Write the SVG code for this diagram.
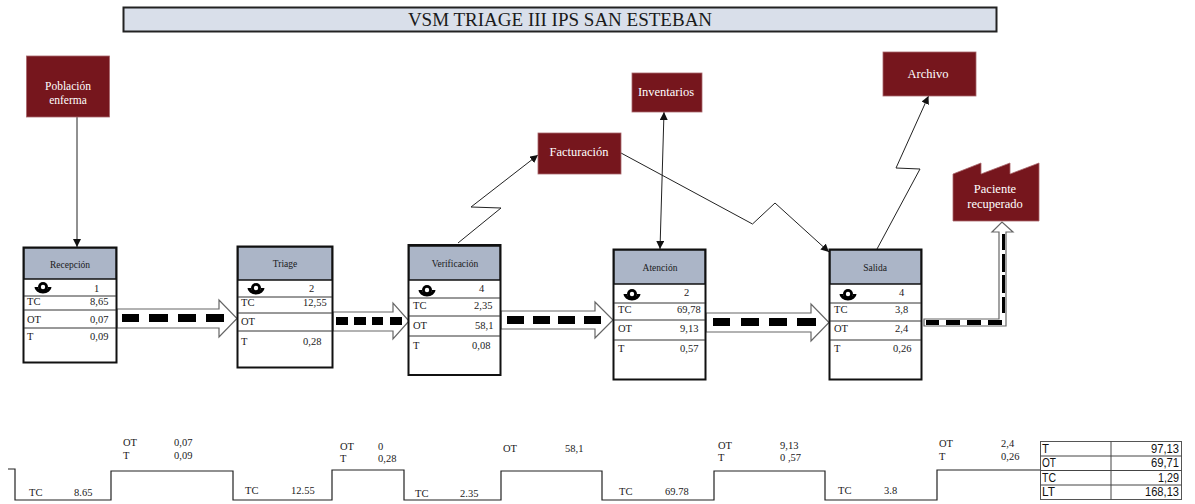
<svg xmlns="http://www.w3.org/2000/svg" width="1195" height="504" viewBox="0 0 1195 504">
<style>
text{font-family:"Liberation Serif","Times New Roman",serif;fill:#1a1a1a}
.v{font-size:10.5px}
.n{font-size:9.500px;text-anchor:middle}
.c{font-size:12.500px;fill:#fff;text-anchor:middle}
.s{font-size:10.500px}
.t{font-family:"Liberation Sans",Arial,sans-serif;font-size:12.500px;fill:#111}
.r{text-anchor:end}
.box{fill:#fff;stroke:#111;stroke-width:2}
.head{fill:#abb5c7;stroke:#111;stroke-width:1.5}
.row{stroke:#333;stroke-width:1;fill:none}
.red{fill:#76161d;stroke:#a8666b;stroke-width:.8}
.l{fill:none;stroke:#222;stroke-width:1}
.ha{fill:#fff;stroke:#666;stroke-width:1.2}
.d{fill:#000}
.st{fill:none;stroke:#222;stroke-width:1.2}
.gl{stroke:#444;stroke-width:1}
</style>
<defs>
<marker id="a" markerWidth="9" markerHeight="8" refX="8" refY="4" orient="auto" markerUnits="userSpaceOnUse"><path d="M0 0L8 4L0 8Z" fill="#111"/></marker>
<marker id="b" markerWidth="9" markerHeight="8" refX="8" refY="4" orient="auto-start-reverse" markerUnits="userSpaceOnUse"><path d="M0 0L8 4L0 8Z" fill="#111"/></marker>
<g id="op"><path d="M-8.500-1A8.500 6.500 0 0 0 8.500-1L5-1A5 4 0 0 1-5-1Z" fill="#000"/><circle cx="0" cy="-1" r="5" fill="#000"/><circle cx="0" cy="-1" r="2.200" fill="#fff"/></g>
</defs>
<g id="title"><rect x="123.500" y="7.500" width="873" height="24" fill="#d9dfea" stroke="#222" stroke-width="2"/><text x="560" y="26" font-size="19" text-anchor="middle">VSM TRIAGE III IPS SAN ESTEBAN</text></g>

<g id="connectors">
<path class="l" d="M77 117V247" marker-end="url(#a)"/>
<path class="l" d="M458 243L501 208L471 207L538 155" marker-end="url(#a)"/>
<path class="l" d="M621 153L752.500 224L775 203L829 252" marker-end="url(#a)"/>
<path class="l" d="M664 112L660 249" marker-start="url(#b)" marker-end="url(#b)"/>
<path class="l" d="M877 249L920 169L896 168L928.500 96" marker-end="url(#a)"/>
<path class="ha" d="M117 309H219V300L237 318.500L219 337V328H117Z"/>
<path class="d" d="M122 314h17v8h-17zM149 314h19v8h-19zM178 314h18v8h-18zM206 314h18v8h-18z"/>
<path class="ha" d="M333 312H393V303L409 321L393 339V331H333Z"/>
<path class="d" d="M336 317h12v8h-12zM354 317h12v8h-12zM372 317h11v8h-11zM390 317h12v8h-12z"/>
<path class="ha" d="M501 311H595V302L613 320L595 338V329H501Z"/>
<path class="d" d="M507 316h17v8h-17zM533 316h17v8h-17zM558 316h17v8h-17zM584 316h17v8h-17z"/>
<path class="ha" d="M706 313H811V304L829 322.500L811 341V332H706Z"/>
<path class="d" d="M713 318h17v8h-17zM741 318h18v8h-18zM769 318h18v8h-18zM797 318h19v8h-19z"/>
<path class="ha" d="M924 319H999V232H992L1002 222L1013 232H1006V326H924Z"/>
<path class="d" d="M926 320h13v5h-13zM946 320h14v5h-14zM967 320h14v5h-14zM988 320h14v5h-14zM1002 234h3v16h-3zM1002 254h3v18h-3zM1002 275h3v18h-3zM1002 297h3v16h-3z"/>
<path class="st" d="M8 469H15V500H111V471H233V500H332V470H404V500H501V471H602V500H714V471H825V500H937V470H1040"/>
</g>

<g id="poblacion"><rect class="red" x="26.500" y="56" width="83" height="61"/><text class="c" style="font-size:11.500px" x="68" y="90">Población</text><text class="c" style="font-size:11.500px" x="68" y="104">enferma</text></g>
<g id="inventarios"><rect class="red" x="632" y="73" width="70" height="39"/><text class="c" x="666" y="96">Inventarios</text></g>
<g id="facturacion"><rect class="red" x="538" y="133" width="83" height="41"/><text class="c" x="579" y="156">Facturación</text></g>
<g id="archivo"><rect class="red" x="883" y="52" width="93" height="44"/><text class="c" x="928" y="78">Archivo</text></g>
<g id="paciente"><path class="red" d="M953 221V174L981 163V174L1010 163V174L1039 163V221Z"/><text class="c" x="995" y="193">Paciente</text><text class="c" x="995" y="208">recuperado</text></g>

<g id="recepcion">
<rect class="box" x="23.500" y="247.500" width="93" height="115"/><rect class="head" x="24" y="248" width="92" height="31"/>
<path class="row" d="M24 296H116M24 310H116M24 328H116"/>
<use href="#op" x="43" y="288"/><text class="v" x="94" y="292">1</text>
<text class="v" x="27" y="305">TC</text><text class="v" x="90" y="305">8,65</text>
<text class="v" x="27" y="323">OT</text><text class="v" x="90" y="323">0,07</text>
<text class="v" x="27" y="340">T</text><text class="v" x="90" y="340">0,09</text>
<text class="n" x="70" y="268">Recepción</text>
</g>
<g id="triage">
<rect class="box" x="237.500" y="246.500" width="95" height="121"/><rect class="head" x="238" y="247" width="94" height="33"/>
<path class="row" d="M238 297H332M238 313H332M238 331H332"/>
<use href="#op" x="256" y="289"/><text class="v" x="309" y="292">2</text>
<text class="v" x="241" y="306">TC</text><text class="v" x="303" y="306">12,55</text>
<text class="v" x="241" y="325">OT</text>
<text class="v" x="241" y="345">T</text><text class="v" x="303" y="345">0,28</text>
<text class="n" x="285" y="267">Triage</text>
</g>
<g id="verificacion">
<rect class="box" x="408.500" y="245" width="92" height="130"/><rect class="head" x="409" y="246" width="91" height="34"/>
<path class="row" d="M409 298H500M409 316H500M409 336H500"/>
<use href="#op" x="427" y="291"/><text class="v" x="479" y="292">4</text>
<text class="v" x="413" y="309">TC</text><text class="v" x="474" y="309">2,35</text>
<text class="v" x="413" y="329">OT</text><text class="v" x="475" y="329">58,1</text>
<text class="v" x="413" y="349">T</text><text class="v" x="472" y="349">0,08</text>
<text class="n" x="455" y="267">Verificación</text>
</g>
<g id="atencion">
<rect class="box" x="613.500" y="249.500" width="92" height="130"/><rect class="head" x="614" y="250" width="91" height="34"/>
<path class="row" d="M614 303H705M614 320H705M614 340H705"/>
<use href="#op" x="632" y="295"/><text class="v" x="684" y="296">2</text>
<text class="v" x="618" y="313">TC</text><text class="v" x="677" y="313">69,78</text>
<text class="v" x="618" y="332">OT</text><text class="v" x="680" y="332">9,13</text>
<text class="v" x="618" y="352">T</text><text class="v" x="680" y="352">0,57</text>
<text class="n" x="660" y="271">Atención</text>
</g>
<g id="salida">
<rect class="box" x="829.500" y="249.500" width="92" height="130"/><rect class="head" x="830" y="250" width="91" height="34"/>
<path class="row" d="M830 303H921M830 321H921M830 340H921"/>
<use href="#op" x="848" y="295"/><text class="v" x="899" y="296">4</text>
<text class="v" x="834" y="313">TC</text><text class="v" x="895" y="313">3,8</text>
<text class="v" x="834" y="332">OT</text><text class="v" x="895" y="332">2,4</text>
<text class="v" x="834" y="352">T</text><text class="v" x="893" y="352">0,26</text>
<text class="n" x="875" y="271">Salida</text>
</g>

<g id="timeline">
<text class="s" x="29" y="496">TC</text><text class="s" x="74" y="496">8.65</text>
<text class="s" x="245" y="494">TC</text><text class="s" x="291" y="494">12.55</text>
<text class="s" x="415" y="497">TC</text><text class="s" x="460" y="497">2.35</text>
<text class="s" x="619" y="495">TC</text><text class="s" x="665" y="495">69.78</text>
<text class="s" x="838" y="494">TC</text><text class="s" x="884" y="494">3.8</text>
<text class="s" x="123" y="446">OT</text><text class="s" x="174" y="446">0,07</text><text class="s" x="123" y="459">T</text><text class="s" x="174" y="459">0,09</text>
<text class="s" x="340" y="450">OT</text><text class="s" x="378" y="450">0</text><text class="s" x="340" y="462">T</text><text class="s" x="378" y="462">0,28</text>
<text class="s" x="503" y="452">OT</text><text class="s" x="565" y="452">58,1</text>
<text class="s" x="718" y="449">OT</text><text class="s" x="780" y="449">9,13</text><text class="s" x="718" y="461">T</text><text class="s" x="780" y="461">0 ,57</text>
<text class="s" x="939" y="447">OT</text><text class="s" x="1001" y="447">2,4</text><text class="s" x="939" y="460">T</text><text class="s" x="1001" y="460">0,26</text>
</g>

<g id="totals">
<rect x="1040.500" y="441.500" width="141" height="58" fill="#fff" stroke="#555"/>
<path class="gl" d="M1111 441.500V499.500M1040.500 456H1181.500M1040.500 470.500H1181.500M1040.500 485H1181.500"/>
<text class="t" x="1042" y="453" textLength="7" lengthAdjust="spacingAndGlyphs">T</text><text class="t r" x="1179" y="453" textLength="28" lengthAdjust="spacingAndGlyphs">97,13</text>
<text class="t" x="1042" y="467" textLength="14" lengthAdjust="spacingAndGlyphs">OT</text><text class="t r" x="1179" y="467" textLength="28" lengthAdjust="spacingAndGlyphs">69,71</text>
<text class="t" x="1042" y="482" textLength="14" lengthAdjust="spacingAndGlyphs">TC</text><text class="t r" x="1179" y="482" textLength="21" lengthAdjust="spacingAndGlyphs">1,29</text>
<text class="t" x="1042" y="496" textLength="13" lengthAdjust="spacingAndGlyphs">LT</text><text class="t r" x="1179" y="496" textLength="34" lengthAdjust="spacingAndGlyphs">168,13</text>
</g>
</svg>
